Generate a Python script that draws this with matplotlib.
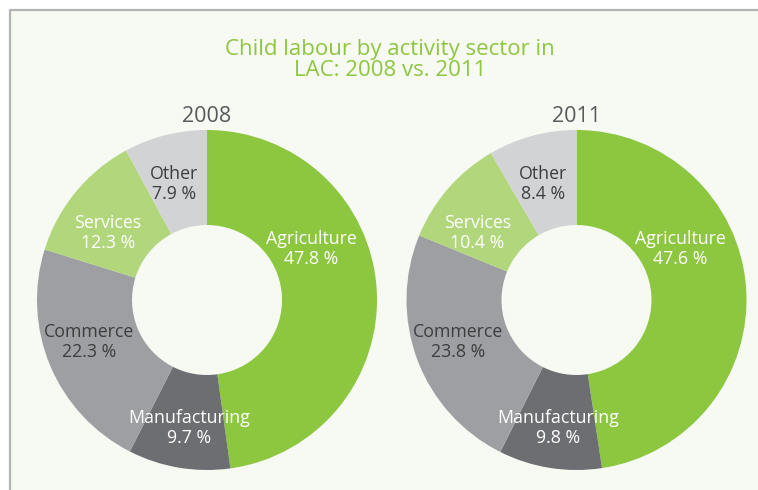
import matplotlib.pyplot as plt
from matplotlib.patches import Rectangle

# podaci
sectors = ['Agriculture', 'Manufacturing', 'Commerce', 'Services', 'Other']
share_2008 = [47.8, 9.7, 22.3, 12.3, 7.9]
share_2011 = [47.6, 9.8, 23.8, 10.4, 8.4]
years = ['2008', '2011']

colors = ['#8dc63f', '#6d6e71', '#9d9fa2', '#b2d67b', '#d1d3d4']
text_colors = ['white', 'white', '#3d3d3f', 'white', '#3d3d3f']
# pomak natpisa od sredista (px)
label_offsets = [(104, -51), (-18, 128), (-118, 42), (-99, -67), (-33, -116)]

W, H = 758, 490
font = 'Open Sans'

fig = plt.figure(figsize=(W / 100, H / 100), dpi=100, facecolor='white')
ax = fig.add_axes([0, 0, 1, 1])

# pozadina i okvir
ax.add_patch(Rectangle((10, 0), W - 10, H - 10, facecolor='#f7f9f3', edgecolor='none', zorder=0))
ax.plot([10, 10, W], [0, H - 10, H - 10], color='#b3b3b3', lw=1.6, zorder=1)

centers = [(207, 300), (576.5, 300)]
for year, vals, (cx, cy) in zip(years, [share_2008, share_2011], centers):
    ax.pie(vals, colors=colors, startangle=90, counterclock=False,
           center=(cx, H - cy), radius=170, frame=True,
           wedgeprops=dict(width=95, linewidth=0))
    for name, v, tc, (dx, dy) in zip(sectors, vals, text_colors, label_offsets):
        ax.text(cx + dx, H - (cy + dy), f'{name}\n{v} %', ha='center', va='center',
                color=tc, fontsize=12.8, family=font, linespacing=1.12)
    ax.text(cx, H - 117, year, ha='center', va='center', color='#58595b',
            fontsize=15.5, family=font)

ax.text(390, H - 60, 'Child labour by activity sector in\nLAC: 2008 vs. 2011',
        ha='center', va='center', color='#8dc63f', fontsize=16, family=font,
        linespacing=1.05)

ax.set_xlim(0, W)
ax.set_ylim(0, H)
ax.set_aspect('auto')
ax.axis('off')

plt.savefig('out.png', dpi=100, facecolor='white')
